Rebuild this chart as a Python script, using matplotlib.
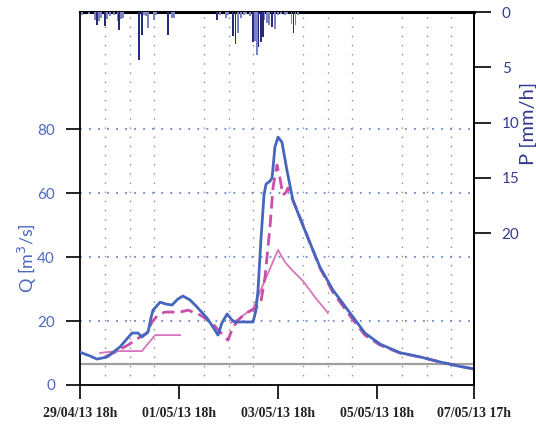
import numpy as np
import matplotlib
matplotlib.use('Agg')
import matplotlib.pyplot as plt

# time axis: hours since 29/04/13 18h
xtick_h = [0, 48, 96, 144, 191]
xtick_labels = ['29/04/13 18h', '01/05/13 18h', '03/05/13 18h', '05/05/13 18h', '07/05/13 17h']
q_ticks = [0, 20, 40, 60, 80]
p_ticks = [0, 5, 10, 15, 20]

# observed discharge [m3/s]
obs_h = [0, 1, 4.8, 8.2, 13.1, 19.4, 25.2, 28.1, 30, 33, 34.4, 35.4, 38.8, 41.7, 44.6, 47.5,
         49.9, 53.3, 56.7, 61.6, 64.5, 66.9, 68.8, 71.3, 73.7, 75.1, 83.9, 85.3, 86.3, 87.7,
         89.2, 90.2, 92.1, 93.1, 94.5, 96, 97.9, 100.3, 103.2, 107.6, 111.5, 116.3, 122.6,
         130.9, 138.1, 145.4, 155.1, 164.8, 174.5, 184.2, 191]
obs_q = [10.3, 10, 9.1, 8.1, 8.75, 11.9, 16.25, 16.25, 15, 16.6, 21, 23.4, 25.9, 25.3, 25, 26.9,
         27.8, 26.6, 24.4, 20.9, 18.1, 15.6, 19.4, 22.2, 20.3, 19.7, 19.7, 23.4, 29.7, 45.3,
         59.4, 62.8, 63.75, 64.7, 74.4, 77.5, 75.9, 67.2, 57.8, 50.6, 44.4, 36.9, 29.7,
         22.5, 16.25, 12.8, 10.1, 8.8, 7.2, 5.8, 5.0]

# simulated discharge (model 1, dashed)
sim1_h = [12.1, 17, 23.3, 29.1, 32.5, 34.9, 37.8, 41.2, 48.5, 52.4, 58.2, 64, 67.9, 71.7, 74.2,
          77.6, 81.4, 85.3, 87.7, 89.7, 92.1, 93.6, 95.5, 96.9, 98.4, 99.9, 100.8, 103.2, 107.6,
          111.5, 116.3, 122.6, 130.9, 138.1, 145.4, 155.1, 164.8, 174.5, 184.2, 191]
sim1_q = [8.75, 10.3, 12.5, 15, 16.25, 19.7, 21.9, 22.8, 22.8, 23.4, 21.9, 19.4, 16.6, 14, 18.1,
          20.9, 22.8, 24, 26, 33.75, 49.4, 61.9, 68.75, 64.7, 59.4, 60.3, 61.6, 57.8, 50.9,
          44.4, 36.6, 29, 21.6, 15.6, 12.5, 10, 8.75, 7.2, 5.9, 5.0]

# simulated discharge (model 2, thin), two pieces
sim2a_h = [9.7, 13.1, 19.4, 30, 36.4, 48.5]
sim2a_q = [10, 10.3, 10.6, 10.6, 15.6, 15.6]
sim2b_h = [73, 76, 80, 83.9, 89.7, 96, 99.4, 102.8, 108.1, 113.9, 120.2]
sim2b_q = [19.5, 20.3, 22.2, 24, 32.8, 42.2, 38.4, 35.9, 32.5, 27.5, 22.5]

base_q = 6.5

# rainfall [mm/h], two gauges
rain1_h = [8.2, 12, 19, 28.6, 30, 42.7, 66.6, 74.2, 75.4, 83.9, 86.5, 87.7, 88.7, 93, 103.5]
rain1_mm = [1.2, 1.3, 1.6, 4.3, 2.1, 2.1, 0.7, 2.2, 2.9, 2.7, 3.2, 2.7, 2.3, 1.4, 1.9]
rain2_h = [1, 4.5, 7.3, 9.2, 10, 13, 14.5, 16.5, 18.4, 20, 21, 31, 32, 33, 36, 37, 44.6, 45.5,
           67.9, 70.8, 71.7, 76.6, 78, 79.5, 80.5, 82.4, 84.8, 85.6, 89.4, 90.6, 91.6, 94.5,
           96, 97.4, 99.4, 100.3, 102.5, 104.5, 105.7]
rain2_mm = [0.3, 0.2, 0.7, 0.8, 0.5, 0.6, 0.4, 0.3, 0.8, 0.6, 0.5, 0.3, 0.4, 1.45, 0.7, 0.3, 0.5, 0.5,
            0.3, 0.5, 0.3, 1.9, 0.5, 0.3, 0.2, 0.4, 2.6, 3.9, 0.7, 1.0, 1.2, 1.5,
            0.3, 0.2, 0.3, 0.2, 1.1, 1.2, 0.3]

qcol = '#4d68c0'
pcol = '#343a8e'

fig = plt.figure(figsize=(5.36, 4.32), dpi=100)
ax = fig.add_axes([80/536, 47/432, 394/536, 373/432])

ax.axhline(base_q, color='#a0a0a0', lw=1.6, zorder=2)
ax.plot(sim2a_h, sim2a_q, color='#d774bd', lw=1.3, zorder=3)
ax.plot(sim2b_h, sim2b_q, color='#d774bd', lw=1.3, zorder=3)
ax.plot(sim1_h, sim1_q, color='#c94fa9', lw=2.0, dashes=(4.5, 2.2), zorder=4)
ax.plot(obs_h, obs_q, color='#4666bd', lw=2.0, zorder=5)

ax.set_xlim(0, 191)
ax.set_ylim(0, 116.6)
ax.set_xticks(xtick_h)
ax.set_xticklabels(xtick_labels, fontfamily='Liberation Serif', fontweight='bold',
                   fontsize=10, color='#222222')
ax.set_xticks(np.arange(12, 190, 12), minor=True)
ax.tick_params(axis='x', which='major', length=10, width=1.2, pad=6)
ax.tick_params(axis='x', which='minor', length=0)
ax.set_yticks(q_ticks)
ax.set_yticklabels([str(v) for v in q_ticks], fontfamily='Lato', fontsize=11)
ax.tick_params(axis='y', length=10, width=1.2, pad=8, labelcolor=qcol)
ax.grid(axis='x', which='minor', color='#8a8a8a', linestyle=(0, (1, 5.6)), linewidth=1.0)
ax.grid(axis='y', which='major', color='#6f86d0', linestyle=(0, (1, 4)), linewidth=1.3)
ax.set_axisbelow(True)
ax.set_ylabel('Q [m$^3$/s]', fontfamily='Lato', fontsize=13, color=qcol)
ax.yaxis.set_label_coords(-0.105, 0.34)
for s in ['left', 'bottom', 'right']:
    ax.spines[s].set_linewidth(1.3)
ax.spines['top'].set_linewidth(2.2)

ax2 = ax.twinx()
ax2.bar(rain2_h, rain2_mm, width=0.9, color='#7c83c2', zorder=2)
ax2.bar(rain1_h, rain1_mm, width=0.9, color='#262b7e', zorder=3)
ax2.set_ylim(33.75, 0)
ax2.set_xlim(0, 191)
ax2.set_yticks(p_ticks)
ax2.set_yticklabels([str(v) for v in p_ticks], fontfamily='Lato', fontsize=11)
ax2.tick_params(axis='y', length=12, width=1.2, pad=8, labelcolor=pcol)
ax2.set_ylabel('P [mm/h]', fontfamily='Lato', fontsize=14.5, color=pcol)
ax2.yaxis.set_label_coords(1.117, 0.70)
for s in ['left', 'bottom', 'top']:
    ax2.spines[s].set_visible(False)
ax2.spines['right'].set_linewidth(1.3)

fig.savefig('out.png', dpi=100)
